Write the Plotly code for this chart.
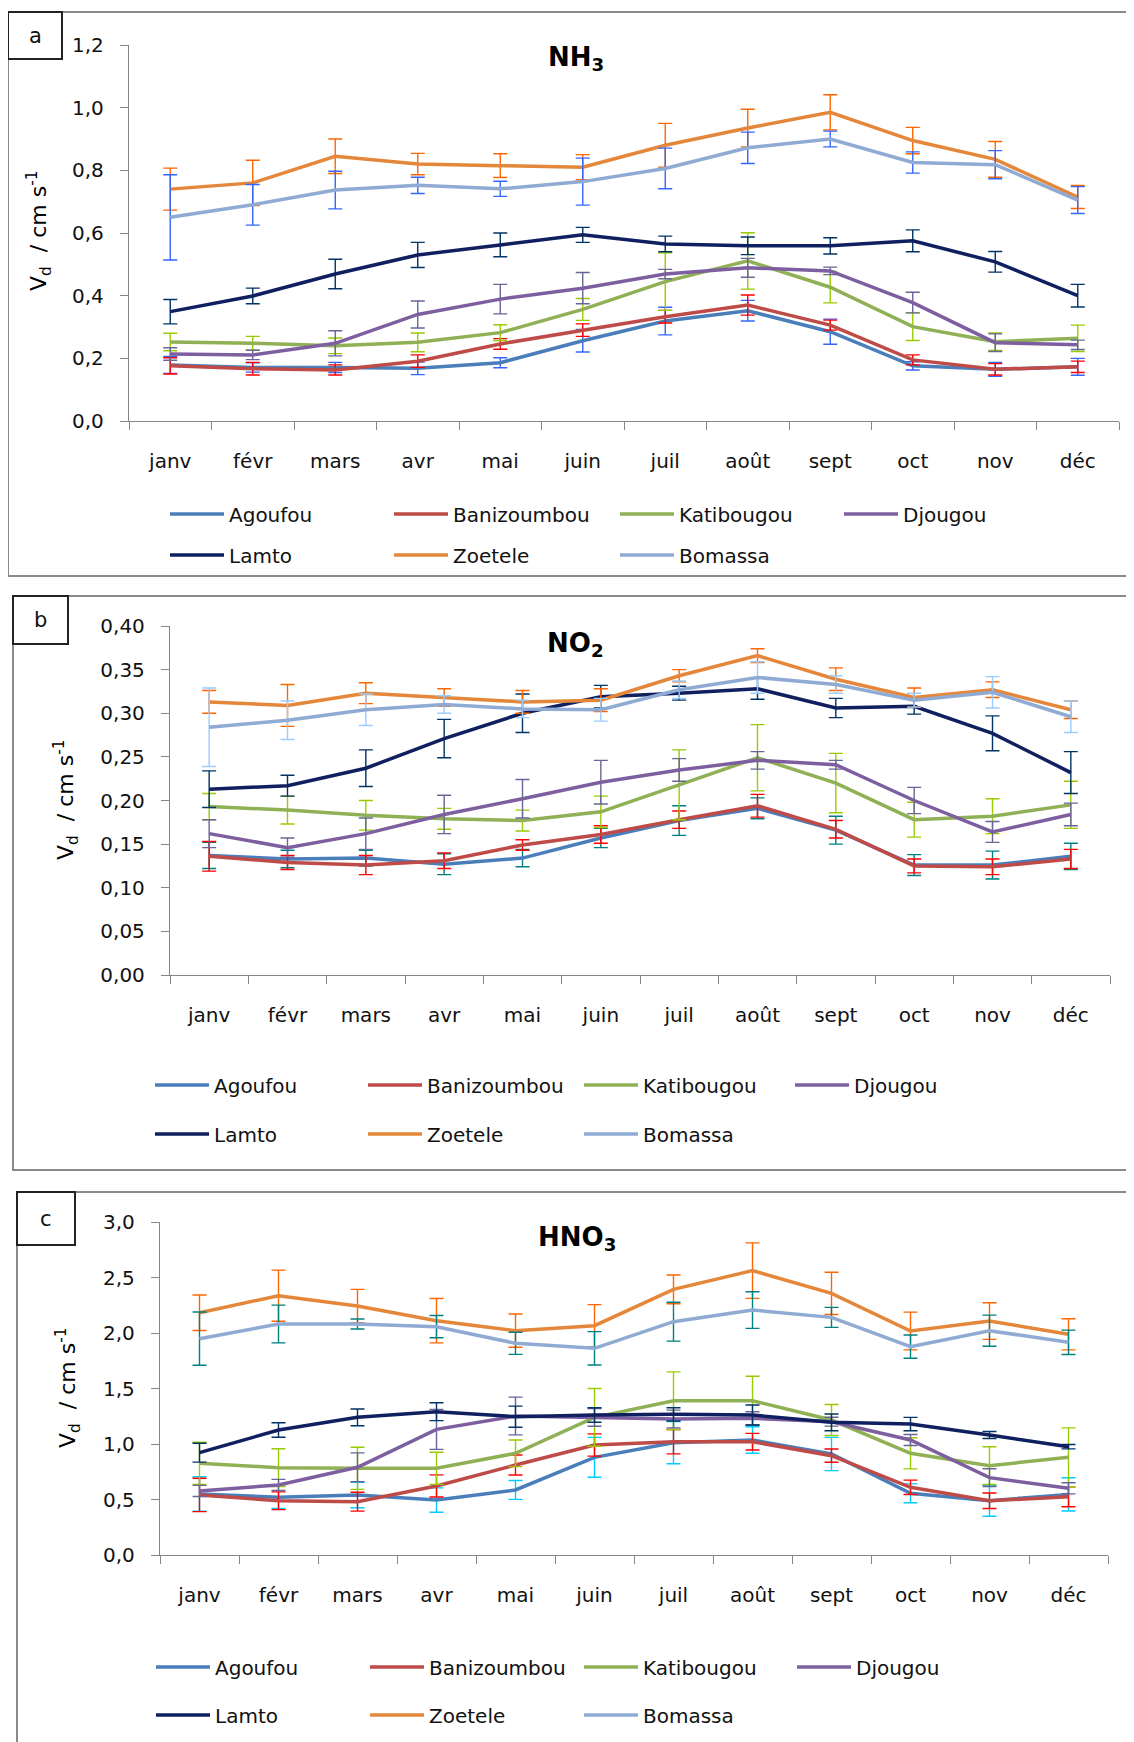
import plotly.graph_objects as go

# --- data (Vd in cm/s) ---
months = ["janv", "févr", "mars", "avr", "mai", "juin", "juil", "août", "sept", "oct", "nov", "déc"]
sites = ["Agoufou", "Banizoumbou", "Katibougou", "Djougou", "Lamto", "Zoetele", "Bomassa"]

nh3_mean = {
    "Agoufou": [0.179, 0.171, 0.171, 0.168, 0.186, 0.256, 0.319, 0.352, 0.285, 0.176, 0.165, 0.173],
    "Banizoumbou": [0.176, 0.167, 0.163, 0.191, 0.246, 0.29, 0.333, 0.37, 0.306, 0.195, 0.165, 0.173],
    "Katibougou": [0.252, 0.248, 0.24, 0.251, 0.282, 0.356, 0.445, 0.511, 0.427, 0.301, 0.253, 0.264],
    "Djougou": [0.214, 0.211, 0.248, 0.34, 0.389, 0.424, 0.469, 0.489, 0.479, 0.378, 0.25, 0.243],
    "Lamto": [0.349, 0.399, 0.469, 0.53, 0.562, 0.594, 0.565, 0.559, 0.559, 0.575, 0.508, 0.4],
    "Zoetele": [0.74, 0.76, 0.845, 0.82, 0.815, 0.81, 0.88, 0.935, 0.985, 0.895, 0.835, 0.715],
    "Bomassa": [0.65, 0.69, 0.737, 0.752, 0.741, 0.764, 0.806, 0.872, 0.9, 0.825, 0.818, 0.705],
}
nh3_err = {
    "Agoufou": [0.027, 0.015, 0.016, 0.02, 0.016, 0.036, 0.044, 0.033, 0.04, 0.013, 0.022, 0.027],
    "Banizoumbou": [0.026, 0.02, 0.016, 0.02, 0.017, 0.02, 0.02, 0.032, 0.016, 0.016, 0.018, 0.018],
    "Katibougou": [0.028, 0.022, 0.025, 0.03, 0.025, 0.035, 0.092, 0.09, 0.05, 0.044, 0.028, 0.042],
    "Djougou": [0.02, 0.015, 0.04, 0.043, 0.047, 0.05, 0.015, 0.03, 0.012, 0.033, 0.028, 0.015],
    "Lamto": [0.039, 0.025, 0.047, 0.04, 0.038, 0.024, 0.025, 0.028, 0.026, 0.035, 0.033, 0.036],
    "Zoetele": [0.067, 0.072, 0.055, 0.034, 0.038, 0.04, 0.07, 0.06, 0.056, 0.042, 0.057, 0.037],
    "Bomassa": [0.136, 0.065, 0.06, 0.026, 0.024, 0.075, 0.065, 0.05, 0.025, 0.034, 0.045, 0.043],
}

no2_mean = {
    "Agoufou": [0.137, 0.133, 0.134, 0.127, 0.134, 0.157, 0.177, 0.191, 0.166, 0.126, 0.126, 0.136],
    "Banizoumbou": [0.136, 0.129, 0.126, 0.131, 0.149, 0.161, 0.178, 0.194, 0.167, 0.125, 0.124, 0.133],
    "Katibougou": [0.193, 0.189, 0.183, 0.179, 0.177, 0.187, 0.218, 0.249, 0.22, 0.178, 0.182, 0.195],
    "Djougou": [0.162, 0.146, 0.162, 0.184, 0.202, 0.221, 0.235, 0.246, 0.241, 0.2, 0.164, 0.184],
    "Lamto": [0.213, 0.217, 0.237, 0.271, 0.3, 0.319, 0.323, 0.328, 0.306, 0.308, 0.277, 0.232],
    "Zoetele": [0.313, 0.309, 0.323, 0.318, 0.313, 0.315, 0.343, 0.366, 0.339, 0.318, 0.327, 0.304],
    "Bomassa": [0.284, 0.292, 0.304, 0.31, 0.305, 0.304, 0.327, 0.341, 0.333, 0.315, 0.324, 0.296],
}
no2_err = {
    "Agoufou": [0.015, 0.01, 0.009, 0.012, 0.01, 0.011, 0.017, 0.012, 0.016, 0.012, 0.016, 0.015],
    "Banizoumbou": [0.017, 0.008, 0.011, 0.009, 0.006, 0.01, 0.01, 0.013, 0.01, 0.008, 0.009, 0.011],
    "Katibougou": [0.015, 0.016, 0.017, 0.012, 0.012, 0.018, 0.04, 0.038, 0.034, 0.02, 0.02, 0.027],
    "Djougou": [0.016, 0.011, 0.018, 0.022, 0.022, 0.025, 0.013, 0.01, 0.005, 0.015, 0.012, 0.013],
    "Lamto": [0.021, 0.012, 0.021, 0.022, 0.022, 0.013, 0.008, 0.012, 0.011, 0.009, 0.02, 0.024],
    "Zoetele": [0.013, 0.024, 0.012, 0.01, 0.013, 0.013, 0.007, 0.008, 0.013, 0.011, 0.009, 0.01],
    "Bomassa": [0.045, 0.022, 0.018, 0.01, 0.01, 0.013, 0.01, 0.018, 0.01, 0.008, 0.018, 0.018],
}

hno3_mean = {
    "Agoufou": [0.55, 0.52, 0.541, 0.495, 0.586, 0.88, 1.012, 1.036, 0.91, 0.556, 0.489, 0.546],
    "Banizoumbou": [0.541, 0.489, 0.48, 0.622, 0.811, 0.991, 1.021, 1.021, 0.895, 0.61, 0.489, 0.525],
    "Katibougou": [0.826, 0.787, 0.781, 0.781, 0.916, 1.24, 1.39, 1.39, 1.216, 0.916, 0.805, 0.88],
    "Djougou": [0.577, 0.631, 0.79, 1.132, 1.252, 1.24, 1.225, 1.231, 1.201, 1.036, 0.697, 0.601],
    "Lamto": [0.922, 1.126, 1.24, 1.291, 1.246, 1.261, 1.267, 1.261, 1.195, 1.18, 1.081, 0.976],
    "Zoetele": [2.183, 2.336, 2.243, 2.111, 2.021, 2.066, 2.393, 2.562, 2.357, 2.018, 2.108, 1.988],
    "Bomassa": [1.949, 2.081, 2.081, 2.057, 1.907, 1.862, 2.102, 2.207, 2.141, 1.877, 2.021, 1.916],
}
hno3_err = {
    "Agoufou": [0.155, 0.1, 0.115, 0.11, 0.085, 0.18, 0.19, 0.12, 0.15, 0.085, 0.14, 0.15],
    "Banizoumbou": [0.15, 0.08, 0.085, 0.1, 0.09, 0.1, 0.11, 0.075, 0.06, 0.065, 0.07, 0.09],
    "Katibougou": [0.19, 0.17, 0.19, 0.145, 0.12, 0.26, 0.26, 0.22, 0.14, 0.14, 0.17, 0.265],
    "Djougou": [0.05, 0.05, 0.13, 0.18, 0.17, 0.08, 0.08, 0.06, 0.04, 0.05, 0.08, 0.05],
    "Lamto": [0.085, 0.065, 0.075, 0.08, 0.095, 0.065, 0.06, 0.09, 0.075, 0.06, 0.032, 0.02],
    "Zoetele": [0.16, 0.23, 0.15, 0.2, 0.15, 0.19, 0.13, 0.25, 0.19, 0.17, 0.165, 0.14],
    "Bomassa": [0.24, 0.17, 0.045, 0.1, 0.1, 0.15, 0.175, 0.165, 0.09, 0.105, 0.14, 0.11],
}

# --- styles ---
PAGE_OFF = 8                      # default body margin of the html page
W, H = 1134 - PAGE_OFF, 1742 - PAGE_OFF
ML, MR = 121, 15                  # plot area of panel a spans the full paper width
PW = W - ML - MR
FONT = "DejaVu Sans"
AXIS_GREY = "#868686"
TXT = "#111111"

line_colors = {
    "Agoufou": "#4A7EBB", "Banizoumbou": "#BE4B48", "Katibougou": "#8FB054",
    "Djougou": "#7D5FA0", "Lamto": "#0F1F5F", "Zoetele": "#E5873A", "Bomassa": "#8FAAD3",
}
err_colors_a = {"Agoufou": "#3366FF", "Banizoumbou": "#FF0000", "Katibougou": "#99CC00",
                "Djougou": "#666699", "Lamto": "#003366", "Zoetele": "#FF6600", "Bomassa": "#3366FF"}
err_colors_b = dict(err_colors_a, Agoufou="#008080", Bomassa="#99CCFF")
err_colors_c = dict(err_colors_a, Agoufou="#00CCFF", Bomassa="#008080")


def px_x(x):  # page pixel -> paper
    return (x - PAGE_OFF - ML) / PW


def px_y(y):
    return 1 - (y - PAGE_OFF) / H


def note(text, x, y, size, color=TXT, angle=0):
    return dict(text=text, x=px_x(x), y=px_y(y), xref="paper", yref="paper",
                xanchor="center", yanchor="middle", showarrow=False, textangle=angle,
                font=dict(family=FONT, size=size, color=color))


panels = [
    dict(mean=nh3_mean, err=nh3_err, ecol=err_colors_a, title="NH<sub>3</sub>", fmt=".1f",
         rng=[0, 1.2], dtick=0.2, box=(129, 1119, 45, 421), frame=(8, 12, 1132, 576),
         lab="a", labbox=(8, 12, 62, 59), title_xy=(576, 58), ytitle_xy=(39, 231),
         leg_rows=(514, 555), leg_cols=(172, 396, 622, 846)),
    dict(mean=no2_mean, err=no2_err, ecol=err_colors_b, title="NO<sub>2</sub>", fmt=".2f",
         rng=[0, 0.4], dtick=0.05, box=(170, 1110, 626, 975), frame=(13, 596, 1132, 1170),
         lab="b", labbox=(13, 596, 68, 644), title_xy=(575, 644), ytitle_xy=(66, 800),
         leg_rows=(1085, 1134), leg_cols=(157, 370, 586, 797)),
    dict(mean=hno3_mean, err=hno3_err, ecol=err_colors_c, title="HNO<sub>3</sub>", fmt=".1f",
         rng=[0, 3.0], dtick=0.5, box=(160, 1108, 1222, 1555), frame=(17, 1192, 1132, 1760),
         lab="c", labbox=(17, 1192, 75, 1245), title_xy=(577, 1238), ytitle_xy=(68, 1388),
         leg_rows=(1667, 1715), leg_cols=(158, 372, 586, 799)),
]

fig = go.Figure()
shapes, annotations = [], []
layout = {}
leg_count = 0

for i, p in enumerate(panels):
    n = "" if i == 0 else str(i + 1)
    for k, s in enumerate(sites):
        leg_count += 1
        leg = "legend" if leg_count == 1 else "legend%d" % leg_count
        fig.add_trace(go.Scatter(
            x=months, y=p["mean"][s], name=s, mode="lines",
            line=dict(color=line_colors[s], width=3.5),
            error_y=dict(type="data", array=p["err"][s], color=p["ecol"][s], thickness=1.4, width=7),
            xaxis="x" + n, yaxis="y" + n, legend=leg, showlegend=True,
        ))
        # one legend box per entry, laid out in the 4 + 3 grid of the original
        layout[leg] = dict(
            x=px_x(p["leg_cols"][k % 4] - 7), y=px_y(p["leg_rows"][k // 4]),
            xanchor="left", yanchor="middle", itemwidth=54, bgcolor="rgba(0,0,0,0)",
            font=dict(family=FONT, size=20, color=TXT),
        )
    x0, x1, y0, y1 = p["box"]
    layout["xaxis" + n] = dict(
        domain=[max(0, px_x(x0)), min(1, px_x(x1))], anchor="y" + n, type="category",
        categoryarray=months, range=[-0.5, 11.5], tickson="boundaries", ticks="outside",
        ticklen=8, tickcolor=AXIS_GREY, showline=True, linecolor=AXIS_GREY, linewidth=1.3,
        showgrid=False, zeroline=False, ticklabelstandoff=22,
        tickfont=dict(family=FONT, size=20, color=TXT),
    )
    layout["yaxis" + n] = dict(
        domain=[px_y(y1), px_y(y0)], anchor="x" + n, range=p["rng"], dtick=p["dtick"],
        tickformat=p["fmt"], ticks="outside", ticklen=8, tickcolor=AXIS_GREY,
        showline=True, linecolor=AXIS_GREY, linewidth=1.3, showgrid=False, zeroline=False,
        ticklabelstandoff=12, tickfont=dict(family=FONT, size=20, color=TXT),
    )
    fx0, fy0, fx1, fy1 = p["frame"]
    shapes.append(dict(type="rect", xref="paper", yref="paper", x0=px_x(fx0), x1=px_x(fx1),
                       y0=px_y(fy1), y1=px_y(fy0), line=dict(color="#8A8A8A", width=2)))
    lx0, ly0, lx1, ly1 = p["labbox"]
    shapes.append(dict(type="rect", xref="paper", yref="paper", x0=px_x(lx0), x1=px_x(lx1),
                       y0=px_y(ly1), y1=px_y(ly0), line=dict(color="#222222", width=2),
                       fillcolor="white"))
    annotations.append(note(p["lab"], (lx0 + lx1) / 2, (ly0 + ly1) / 2, 21))
    annotations.append(note("<b>%s</b>" % p["title"], *p["title_xy"], 26, color="black"))
    annotations.append(note("V<sub>d</sub>  / cm s<sup>-1</sup>", *p["ytitle_xy"], 22,
                            color="black", angle=-90))

fig.update_layout(
    width=W, height=H, margin=dict(l=ML, r=MR, t=0, b=0, autoexpand=False),
    plot_bgcolor="white", paper_bgcolor="white", separators=", ",
    shapes=shapes, annotations=annotations, **layout,
)

fig.write_html("out.html")
